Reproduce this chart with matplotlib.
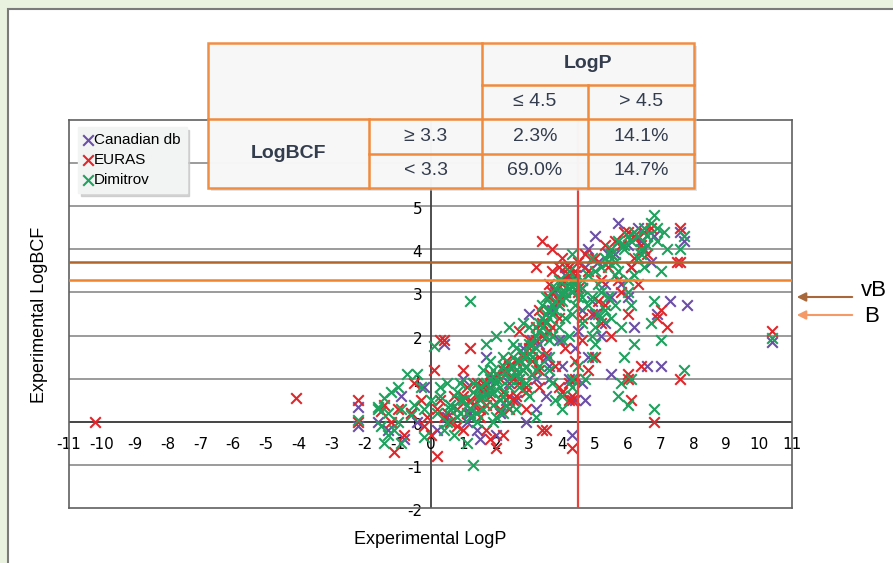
import matplotlib
matplotlib.use("Agg")
import matplotlib.pyplot as plt
from matplotlib.patches import Rectangle, FancyArrowPatch

# data (LogP, LogBCF)
canadian_x = [-2.2, -2.2, -1.3, -0.9, -0.8, -0.2, -0.4, 0.4, 0.5, 1.0, 1.2, 1.4, 1.5, 1.8, 2.0, 2.2,
              2.6, 3.0, 3.2, 3.5, 3.6, 3.9, 4.1, 4.2, 4.3, 4.4, 4.6, 4.8, 5.0, 5.2, 5.4, 5.5, 5.7,
              6.0, 6.3, 6.5, 6.6, 6.9, 7.0, 7.3, 7.7, 7.8, 7.6, 10.4, 2.4, 2.8, 3.3, 3.7, 4.5, 4.9,
              5.8, 6.2, 0.9, -1.6, 1.7, 2.9, 3.8, 4.7, 5.3, 6.0,
              0.6, 1.3, 1.9, 2.5, 3.1, 3.4, 3.9, 4.3, 4.6, 5.1, 5.6, 6.4, 0.2, -0.6, 1.1, 2.1, 2.7,
              3.5, 4.7, 5.3, 6.8,
              3.2, 3.6, 4.0, 4.4, 4.6, 5.0, 5.5, 6.1, 6.7, 2.3, 1.6, 4.8]
canadian_y = [0.35, -0.1, -0.2, 0.6, -0.4, 0.8, 0.0, 1.8, 0.1, 1.0, 0.2, -0.2, -0.4, 0.8, -0.3, 1.2,
              0.5, 2.5, 0.3, 0.6, 1.0, 1.9, 3.4, 1.0, -0.3, 0.5, 0.9, 1.5, 4.3, 2.0, 3.9, 1.1, 4.6,
              2.9, 4.5, 4.0, 1.3, 2.5, 1.3, 2.8, 4.2, 2.7, 4.4, 1.85, 0.9, 1.7, 1.8, 2.6, 2.1, 2.8,
              3.2, 2.2, 0.5, 0.0, 1.5, 0.0, 3.0, 3.6, 3.2, 4.1,
              0.4, 0.9, 1.0, 1.3, 1.9, 2.4, 2.7, 3.0, 3.1, 3.7, 3.9, 4.2, -0.2, 0.2, 0.0, 0.2, 1.0,
              1.5, 0.5, 2.3, 4.3,
              1.0, 1.3, 1.3, 1.7, 2.6, 2.5, 2.9, 3.6, 3.7, 0.5, 0.7, 4.0]

euras_x = [-10.2, -4.1, -2.2, -2.2, -1.5, -1.2, -1.0, -0.8, -1.1, -0.3, -0.5, 0.1, 0.3, 0.4, 0.2,
           0.0, 0.3, 0.5, 0.7, 1.0, 1.1, 1.3, 1.5, 1.6, 1.8, 2.0, 2.0, 2.2, 2.3, 2.5, 2.6, 2.8, 2.9,
           3.0, 3.1, 3.2, 3.3, 3.4, 3.5, 3.4, 3.6, 3.7, 3.8, 3.9, 4.0, 4.2, 4.4, 4.5, 4.7, 5.0, 5.3,
           5.6, 5.9, 6.2, 6.5, 7.6, 7.5, 6.3, 6.0, 5.5, 5.0, 4.8, 4.6, 4.3, 4.3, 3.9, 3.8, 4.1, 4.4,
           3.3, 2.9, 6.0, 6.1, 6.8, 7.0, 7.2, 7.6, 7.6, 6.4, 6.0, 10.4, 4.9, 5.1, 5.2, 5.8, 3.7, 2.4,
           1.7, 0.8, -0.1, -0.2, 1.2, 2.7, 4.5, 4.6, 3.2, 3.4, 3.7, 5.4, 6.6, 6.9, 6.2,
           0.4, 0.8, 1.0, 1.2, 1.4, 1.6, 1.8, 2.0, 2.2, 2.4, 2.6, 2.8, 3.0, 3.2, 3.4, 3.6, 3.8, 4.0,
           4.2, 4.4, 4.1, 4.3, 3.9, 3.7, 1.5, 2.1, 2.5, 2.9, 3.3, 4.0, 4.3, 5.5, 5.8, 6.1, 6.4, 6.7,
           4.8, 5.2, 0.2, -0.6, -1.4, 1.0, 1.7,
           1.1, 1.4, 1.9, 2.1, 2.4, 2.7, 3.1, 3.3, 3.5, 3.6, 3.9, 4.1, 4.2, 4.4, 4.2, 4.5, 4.0, 3.6,
           5.3, 5.7, 6.3, 6.0, 0.6, 1.8, 2.2]
euras_y = [0.0, 0.55, 0.5, 0.0, 0.25, 0.0, 0.3, -0.3, -0.7, 0.5, 0.9, 1.2, 1.9, 1.9, -0.8,
           -0.3, 0.5, 0.2, 0.6, 1.2, 0.8, 0.4, 0.3, 0.9, 0.6, -0.6, 1.1, 0.7, 1.4, 1.0, 0.6, 1.2, 0.8,
           1.9, 1.4, 2.2, 2.6, 2.0, -0.2, -0.2, 2.9, 3.5, 3.1, 2.4, 3.3, 3.6, 3.4, 3.7, 3.9, 3.8, 4.1,
           4.2, 4.4, 4.3, 4.4, 4.5, 3.7, 3.2, 2.5, 2.0, 1.5, 1.2, 1.9, -0.6, 0.6, 0.8, 1.3, 1.7, 1.4,
           0.8, 0.3, 1.1, 0.5, 0.0, 2.6, 2.2, 1.0, 3.7, 1.3, 1.0, 2.1, 2.5, 2.8, 3.3, 3.0, 2.2, 0.3,
           -0.2, -0.1, 0.1, -0.1, 1.7, 2.1, 3.0, 2.4, 3.6, 4.2, 4.0, 3.6, 3.9, 2.4, 3.8,
           0.1, 0.3, 0.6, 0.5, 0.9, 0.8, 1.1, 0.9, 1.2, 1.3, 1.4, 1.5, 1.7, 1.9, 2.3, 2.6, 2.8, 3.2,
           3.4, 3.5, 3.6, 3.3, 3.6, 3.0, 0.1, 0.3, 0.5, 0.7, 1.2, 0.7, 0.5, 3.9, 4.1, 3.6, 4.1, 4.5,
           3.5, 2.3, 0.3, 0.2, 0.4, -0.2, 0.4,
           0.2, 0.6, 0.4, 1.0, 0.6, 0.9, 1.1, 1.5, 1.6, 2.1, 2.8, 3.0, 0.9, 1.0, 0.5, 3.1, 3.8, 3.2,
           2.7, 3.3, 4.3, 4.4, 0.0, -0.4, -0.3]

dimitrov_x = [-2.2, -1.6, -1.4, -1.2, -1.0, -1.3, -1.5, -1.1, -0.9, -0.7, -0.4, -0.3, -0.6, -1.4,
              -0.9, -0.2, 0.1, 0.3, 0.5, 0.2, 0.6, 0.8, 1.0, 1.2, 1.1, 0.7, 1.2, 1.3, 1.5, 1.6, 1.8,
              1.9, 2.0, 2.2, 2.1, 2.3, 2.4, 2.5, 2.6, 2.7, 2.8, 2.9, 3.0, 3.1, 3.2, 3.3, 3.4, 3.5,
              3.6, 3.7, 3.8, 3.9, 4.0, 4.1, 4.2, 4.4, 4.5, 4.6, 4.8, 5.0, 5.2, 5.3, 5.5, 5.7, 5.9,
              6.0, 6.2, 6.4, 6.6, 6.8, 6.9, 7.1, 6.5, 7.0, 6.8, 6.1, 5.8, 5.5, 5.3, 5.0, 4.8, 4.6,
              4.3, 4.7, 4.9, 5.0, 3.6, 3.8, 4.0, 4.3, 4.5, 5.8, 5.7, 6.0, 6.1, 6.8, 7.7, 7.7, 7.6,
              10.4, 7.0, 6.7, 6.2, 0.4, -0.2, 1.4, 2.0, 2.6, 3.0, 3.2, 1.7, 2.0, 2.4, 2.8, -1.3, 0.9,
              1.9, 1.5, 2.2, 3.5, 3.9, 4.2, 5.1, 5.6, 6.3, 5.4, 4.9, 4.3, 6.7,
              0.6, 0.9, 1.1, 1.3, 1.5, 1.7, 1.8, 2.0, 2.1, 2.3, 2.4, 2.5, 2.6, 2.7, 2.8, 2.9, 3.0,
              3.1, 3.2, 3.3, 3.4, 3.5, 3.6, 3.7, 3.8, 3.9, 4.0, 4.1, 4.2, 4.3, 4.4, 1.4, 1.9, 2.2,
              2.7, 3.1, 3.6, 4.0, 5.2, 5.5, 5.9, 6.1, 6.3, 6.6, 5.6, 6.0, 4.9, 5.1, 0.3, -0.5, -1.6,
              -1.0, 0.0, 0.8, 1.6, 3.3, 3.7, 4.6, 5.4, 6.4,
              0.5, 0.9, 1.2, 1.6, 1.8, 2.3, 2.6, 2.9, 3.2, 3.4, 3.6, 3.9, 4.1, 4.4, 4.2, 3.8, 3.5,
              3.0, 2.5, 2.2, 1.9, 1.3, 4.6, 4.9, 5.2, 5.6, 6.0, 5.7, 6.2, 4.3, 4.0, 3.7, 5.9, 6.5,
              6.9, 7.2]
dimitrov_y = [0.05, 0.35, 0.55, 0.7, 0.8, 0.2, -0.1, -0.2, 0.3, 1.1, 1.1, 0.8, 0.15, -0.5,
              -0.5, -0.35, 1.75, 0.6, 0.9, 0.2, 0.4, 0.1, 0.5, 0.3, -0.5, -0.3, 2.8, -1.0, 0.8, 1.2, 1.0,
              0.7, 0.9, 1.3, 0.5, 1.1, 0.8, 1.5, 1.2, 1.0, 1.6, 1.3, 1.8, 1.5, 2.0, 2.3, 2.2, 2.5,
              2.4, 2.7, 2.6, 2.9, 2.8, 3.0, 3.1, 3.2, 2.9, 3.3, 3.4, 3.5, 3.0, 3.8, 4.0, 4.2, 4.1,
              4.3, 4.4, 4.0, 4.3, 4.8, 4.5, 4.4, 3.6, 3.5, 2.8, 2.7, 2.2, 2.4, 2.6, 2.2, 2.7, 2.3,
              2.5, 1.0, 1.5, 1.8, 1.2, 0.5, 0.3, 0.8, 1.3, 0.9, 0.6, 0.4, 1.0, 0.3, 1.2, 4.3, 4.0,
              1.95, 1.9, 2.3, 1.8, -0.2, 0.3, 0.0, 0.1, 0.3, 0.6, 0.1, 1.8, 2.0, 2.2, 2.3, -0.3, 0.2,
              0.0, 0.5, 0.2, 2.0, 2.2, 2.0, 3.2, 3.4, 3.8, 2.9, 3.8, 3.9, 4.6,
              0.3, 0.5, 0.4, 0.7, 0.6, 0.9, 0.7, 1.0, 0.8, 1.2, 1.0, 1.3, 1.1, 1.4, 1.2, 1.5, 1.6,
              1.8, 1.7, 2.1, 2.4, 2.3, 2.6, 2.5, 2.8, 2.7, 3.0, 2.9, 3.2, 3.0, 3.3, 0.2, 0.4, 0.6,
              0.8, 1.1, 1.5, 1.9, 3.6, 3.9, 4.0, 4.2, 4.3, 4.1, 3.7, 3.3, 2.9, 2.5, 0.8, 0.4, 0.3,
              0.0, 0.5, 0.7, 0.6, 1.3, 2.0, 3.1, 3.7, 3.9,
              0.0, 0.9, 0.1, 0.3, 1.4, 0.4, 1.7, 0.9, 1.2, 2.7, 1.9, 3.3, 2.4, 2.7, 3.5, 3.1, 2.9,
              2.2, 1.8, 1.5, 1.2, 0.9, 2.9, 2.0, 2.4, 2.7, 3.0, 3.5, 3.4, 1.0, 0.6, 0.9, 1.5, 4.5,
              4.2, 4.0]

x_ticks = list(range(-11, 12))
y_ticks = list(range(-2, 6))

table_rows = [["", "", "LogP", ""],
              ["", "", "\u2264 4.5", "> 4.5"],
              ["LogBCF", "\u2265 3.3", "2.3%", "14.1%"],
              ["", "< 3.3", "69.0%", "14.7%"]]

W, H = 893, 563


def fx(px):
    return px / W


def fy(py):
    return 1 - py / H


fig = plt.figure(figsize=(8.93, 5.63), dpi=100, facecolor="#e9f1df")

# white panel
fig.add_artist(Rectangle((fx(8), -0.1), 1.2, fy(9) + 0.1, transform=fig.transFigure,
                         facecolor="white", edgecolor="#7a7a7a", lw=1.5, zorder=0))

ax = fig.add_axes([fx(69), fy(508), fx(792) - fx(69), fy(120) - fy(508)])
ax.set_xlim(-11, 11)
ax.set_ylim(-2, 7)
ax.set_facecolor("white")
for s in ax.spines.values():
    s.set_color("#606060")
    s.set_linewidth(1.2)
ax.set_xticks([])
ax.set_yticks([])

for yv in range(-1, 7):
    ax.axhline(yv, color="#8a8a8a", lw=1.2, zorder=1)
ax.axhline(0, color="#404040", lw=1.3, zorder=1)
ax.axvline(0, color="#404040", lw=1.3, zorder=1)

narrow = ["Liberation Sans Narrow", "DejaVu Sans"]
for xv in x_ticks:
    ax.text(xv, -0.52, str(xv), ha="center", va="center", fontsize=11, family=narrow, zorder=2)
for yv in y_ticks:
    ax.text(-0.25, yv - 0.08, str(yv), ha="right", va="center", fontsize=11, family=narrow, zorder=2)

mk = dict(marker="x", s=58, linewidths=1.5, zorder=3)
ax.scatter(canadian_x, canadian_y, color="#6b4fa6", label="Canadian db", **mk)
ax.scatter(euras_x, euras_y, color="#e0262b", label="EURAS", **mk)
ax.scatter(dimitrov_x, dimitrov_y, color="#1ea25e", label="Dimitrov", **mk)

# thresholds
ax.axhline(3.7, color="#b0652c", lw=1.8, zorder=4)
ax.axhline(3.3, color="#f0842c", lw=1.8, zorder=4)
ax.axvline(4.5, color="#e8423c", lw=1.6, zorder=4)

fig.text(fx(430), fy(540), "Experimental LogP", ha="center", va="center", fontsize=13,
         family="Liberation Sans")
fig.text(fx(40), fy(315), "Experimental LogBCF", ha="center", va="center", fontsize=13,
         rotation=90, family="Liberation Sans")

leg = ax.legend(loc="upper left", bbox_to_anchor=(fx(78), fy(127)), bbox_transform=fig.transFigure,
                borderaxespad=0, fancybox=False, shadow={"color": "#c8c8c8", "alpha": 0.8},
                framealpha=1, facecolor="#f2f3f3", edgecolor="#f2f3f3", handlelength=0.5,
                handletextpad=0.15, labelspacing=0.4, borderpad=0.4,
                prop={"family": "Liberation Sans", "size": 11}, scatterpoints=1)
leg.set_zorder(10)

# table overlay
cols = [208, 369, 482, 588, 694]
rows = [43, 85, 119, 154, 188]
tc = "#f08a3c"
tx = "#333d4d"
fig.add_artist(Rectangle((fx(211), fy(191)), fx(694) - fx(208), fy(43) - fy(188),
                         transform=fig.transFigure, facecolor="#c8c8c8", edgecolor="none",
                         alpha=0.5, zorder=5))
fig.add_artist(Rectangle((fx(208), fy(188)), fx(694) - fx(208), fy(43) - fy(188),
                         transform=fig.transFigure, facecolor="#f8f8f8", edgecolor=tc,
                         lw=1.8, alpha=0.96, zorder=6))
segs = [((482, 85), (694, 85)), ((208, 119), (694, 119)), ((369, 154), (694, 154)),
        ((482, 43), (482, 188)), ((588, 85), (588, 188)), ((369, 119), (369, 188))]
for (x0, y0), (x1, y1) in segs:
    fig.add_artist(plt.Line2D([fx(x0), fx(x1)], [fy(y0), fy(y1)], transform=fig.transFigure,
                              color=tc, lw=1.8, zorder=7))
fig.text(fx(588), fy(64), table_rows[0][2], ha="center", va="center", fontsize=14,
         fontweight="bold", color=tx, family="Liberation Sans", zorder=8)
fig.text(fx(288), fy(154), table_rows[2][0], ha="center", va="center", fontsize=14,
         fontweight="bold", color=tx, family="Liberation Sans", zorder=8)
centers_x = [(cols[i] + cols[i + 1]) / 2 for i in range(4)]
centers_y = [(rows[i] + rows[i + 1]) / 2 for i in range(4)]
for r in range(1, 4):
    for c in range(1, 4):
        t = table_rows[r][c]
        if t:
            fig.text(fx(centers_x[c]), fy(centers_y[r]), t, ha="center", va="center",
                     fontsize=14, color=tx, family="Liberation Sans", zorder=8)

# arrows for vB / B
fig.add_artist(FancyArrowPatch((fx(855), fy(297)), (fx(794), fy(297)), transform=fig.transFigure,
                               arrowstyle="-|>", mutation_scale=13, color="#a8683c", lw=1.5))
fig.add_artist(FancyArrowPatch((fx(855), fy(315)), (fx(794), fy(315)), transform=fig.transFigure,
                               arrowstyle="-|>", mutation_scale=13, color="#f59a66", lw=1.5))
fig.text(fx(861), fy(290), "vB", ha="left", va="center", fontsize=16, family="Liberation Sans")
fig.text(fx(864), fy(316), "B", ha="left", va="center", fontsize=16, family="Liberation Sans")

fig.savefig("out.png", dpi=100, facecolor=fig.get_facecolor())
